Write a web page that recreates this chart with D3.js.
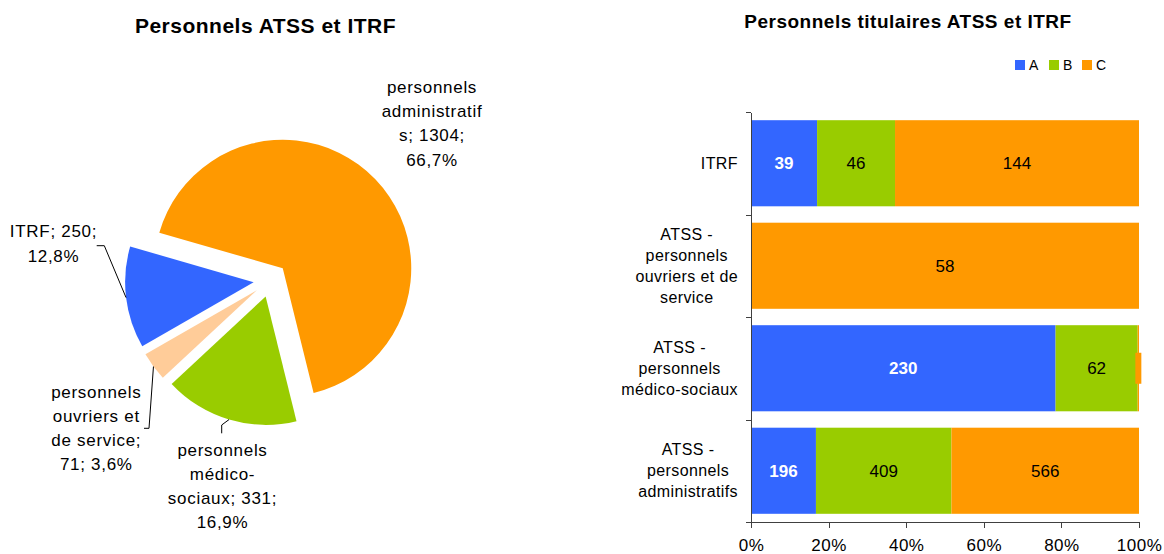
<!DOCTYPE html>
<html>
<head>
<meta charset="utf-8">
<script src="https://d3js.org/d3.v7.min.js"></script>
<style>
  body { margin: 0; background: #fff; }
  svg text { font-family: "Liberation Sans", Arial, sans-serif; fill: #000; }
  .axis path, .axis line { stroke: #404040; shape-rendering: crispEdges; }
</style>
</head>
<body>
<svg id="chart" width="1164" height="554"></svg>
<script>
// ---- pie data (clockwise order as drawn)
const pieNames = ["personnels administratifs", "personnels médico-sociaux", "personnels ouvriers et de service", "ITRF"];
const pieValues = [1304, 331, 71, 250];
const pieColors = ["#FF9900", "#99CC00", "#FFCC99", "#3366FF"];

// ---- bar data (titulaires, by category A/B/C)
const barCategories = ["ITRF", "ATSS - personnels ouvriers et de service", "ATSS - personnels médico-sociaux", "ATSS - personnels administratifs"];
const seriesNames = ["A", "B", "C"];
const valuesA = [39, 0, 230, 196];
const valuesB = [46, 0, 62, 409];
const valuesC = [144, 58, 1, 566];
const seriesColors = ["#3366FF", "#99CC00", "#FF9900"];
const xTicks = [0, 0.2, 0.4, 0.6, 0.8, 1];

const svg = d3.select("#chart");
const fmtPct = v => d3.format(".1f")(v * 100).replace(".", ",") + "%";

// ================= PIE =================
const pieCx = 270.5, pieCy = 280.1, radius = 128.5, explode = 17;
const total = d3.sum(pieValues);
const pieData = pieNames.map((n, i) => ({ name: n, value: pieValues[i], color: pieColors[i] }));

const pie = d3.pie().sort(null).value(d => d.value)
  .startAngle(286.1 * Math.PI / 180)
  .endAngle((286.1 + 360) * Math.PI / 180);
const arcs = pie(pieData);
const arc = d3.arc().innerRadius(0).outerRadius(radius);

svg.append("text")
  .attr("x", 265.5).attr("y", 33)
  .attr("text-anchor", "middle")
  .attr("font-size", "21px").attr("font-weight", "bold")
  .attr("letter-spacing", "0.5px")
  .text("Personnels ATSS et ITRF");

const pieG = svg.append("g").attr("transform", `translate(${pieCx},${pieCy})`);

function offsetOf(a) {
  const mid = (a.startAngle + a.endAngle) / 2;
  return [explode * Math.sin(mid), -explode * Math.cos(mid)];
}

pieG.selectAll("path.slice").data(arcs).join("path")
  .attr("class", "slice")
  .attr("d", arc)
  .attr("fill", d => d.data.color)
  .attr("transform", d => { const o = offsetOf(d); return `translate(${o[0]},${o[1]})`; });

// label text lines
function pieLines(d) {
  const v = d.data.value, p = fmtPct(v / total);
  if (d.index === 0) return ["personnels", "administratif", `s; ${v};`, p];
  if (d.index === 1) return ["personnels", "médico-", `sociaux; ${v};`, p];
  if (d.index === 2) return ["personnels", "ouvriers et", "de service;", `${v}; ${p}`];
  return [`ITRF; ${v};`, p];
}

// label layout (absolute page coords) and leader elbows
const pieLabelLayout = [
  { x: 432, y: 92.7, lh: 24.3, leader: null },
  { x: 222.5, y: 456, lh: 24, leader: [[221.7, 425], [221.7, 433.3]] },
  { x: 96.3, y: 398.3, lh: 24, leader: [[149, 428.3], [144, 428.3]] },
  { x: 53.5, y: 236.7, lh: 25, leader: [[104.3, 245.7], [96.7, 245.7]] }
];

arcs.forEach((d, i) => {
  const lay = pieLabelLayout[i];
  const t = svg.append("text")
    .attr("text-anchor", "middle")
    .attr("font-size", "17px")
    .attr("letter-spacing", "0.7px");
  pieLines(d).forEach((line, j) => {
    t.append("tspan").attr("x", lay.x).attr("y", lay.y + j * lay.lh).text(line);
  });
  if (lay.leader) {
    const mid = (d.startAngle + d.endAngle) / 2;
    const o = offsetOf(d);
    const ax = pieCx + o[0] + radius * Math.sin(mid);
    const ay = pieCy + o[1] - radius * Math.cos(mid);
    const pts = [[ax, ay]].concat(lay.leader);
    svg.append("path")
      .attr("d", d3.line()(pts))
      .attr("fill", "none")
      .attr("stroke", "#000")
      .attr("stroke-width", 1);
  }
});

// ================= STACKED BAR =================
const plotLeft = 751, plotRight = 1139, plotTop = 112, plotBottom = 522;

svg.append("text")
  .attr("x", 908).attr("y", 28.3)
  .attr("text-anchor", "middle")
  .attr("font-size", "19px").attr("font-weight", "bold")
  .attr("letter-spacing", "0.5px")
  .text("Personnels titulaires ATSS et ITRF");

// legend
const legend = svg.append("g");
const legendX = [1015, 1049, 1082];
seriesNames.forEach((s, i) => {
  legend.append("rect")
    .attr("x", legendX[i]).attr("y", 60)
    .attr("width", 10).attr("height", 10)
    .attr("fill", seriesColors[i]);
  legend.append("text")
    .attr("x", legendX[i] + 14).attr("y", 70)
    .attr("font-size", "14px")
    .text(s);
});

const rows = barCategories.map((c, i) => ({ cat: c, A: valuesA[i], B: valuesB[i], C: valuesC[i] }));
const stack = d3.stack().keys(seriesNames).offset(d3.stackOffsetExpand);
const stacked = stack(rows);

const x = d3.scaleLinear().domain([0, 1]).range([plotLeft, plotRight]);
const y = d3.scaleBand().domain(barCategories).range([plotTop, plotBottom])
  .paddingInner(0.16).paddingOuter(0.08);

const barG = svg.append("g");
stacked.forEach((layer, si) => {
  barG.selectAll(null).data(layer).join("rect")
    .attr("x", d => x(d[0]))
    .attr("y", d => y(d.data.cat))
    .attr("width", d => x(d[1]) - x(d[0]))
    .attr("height", y.bandwidth())
    .attr("fill", seriesColors[si]);

  layer.forEach(d => {
    const val = d.data[seriesNames[si]];
    if (!val) return;
    const w = x(d[1]) - x(d[0]);
    const cx = (x(d[0]) + x(d[1])) / 2;
    const cy = y(d.data.cat) + y.bandwidth() / 2;
    if (w < 4) {
      // label box of a very thin segment
      barG.append("rect")
        .attr("x", cx - 3).attr("y", cy - 15.5)
        .attr("width", 6).attr("height", 31)
        .attr("fill", seriesColors[si]);
      return;
    }
    barG.append("text")
      .attr("x", cx).attr("y", cy + 6)
      .attr("text-anchor", "middle")
      .attr("font-size", "17px")
      .attr("font-weight", si === 0 ? "bold" : "normal")
      .style("fill", si === 0 ? "#fff" : "#000")
      .text(val);
  });
});

// y axis (ticks at category boundaries)
const boundary = d3.scaleLinear().domain([0, barCategories.length]).range([plotTop, plotBottom]);
svg.append("g")
  .attr("class", "axis")
  .attr("transform", `translate(${plotLeft},0)`)
  .call(d3.axisLeft(boundary).tickValues(d3.range(barCategories.length + 1)).tickFormat("").tickSize(5).tickSizeOuter(0));

// x axis
const xAxis = svg.append("g")
  .attr("class", "axis")
  .attr("transform", `translate(0,${plotBottom})`)
  .call(d3.axisBottom(x).tickValues(xTicks).tickFormat(d3.format(".0%")).tickSize(6).tickSizeOuter(0));
xAxis.selectAll("text")
  .attr("font-size", "17px")
  .attr("letter-spacing", "0.5px")
  .attr("font-family", null)
  .attr("y", 17).attr("dy", "0.71em")
  .style("fill", "#000");
xAxis.attr("font-family", null);

// category labels: wrapped, centered block right-aligned to the axis
const labelRight = 738, lineH = 21, wrapW = 121;
barCategories.forEach(cat => {
  const t = svg.append("text")
    .attr("font-size", "16px")
    .attr("letter-spacing", "0.4px")
    .attr("text-anchor", "middle");
  const words = cat.split(" ");
  const lines = [];
  let cur = "";
  const probe = t.append("tspan");
  words.forEach(w => {
    const test = cur ? cur + " " + w : w;
    probe.text(test);
    if (cur && probe.node().getComputedTextLength() > wrapW) {
      lines.push(cur);
      cur = w;
    } else cur = test;
  });
  lines.push(cur);
  probe.remove();
  let maxW = 0;
  lines.forEach(l => {
    const p = t.append("tspan").text(l);
    maxW = Math.max(maxW, p.node().getComputedTextLength());
    p.remove();
  });
  const cx = labelRight - maxW / 2;
  const cy = y(cat) + y.bandwidth() / 2;
  lines.forEach((l, j) => {
    t.append("tspan")
      .attr("x", cx)
      .attr("y", cy - (lines.length - 1) / 2 * lineH + 5.5 + j * lineH)
      .text(l);
  });
});
</script>
</body>
</html>
